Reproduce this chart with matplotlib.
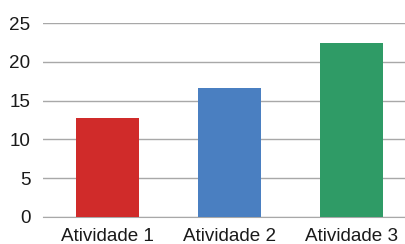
import matplotlib
matplotlib.use("Agg")
import matplotlib.pyplot as plt

categories = ["Atividade 1", "Atividade 2", "Atividade 3"]
values = [12.7, 16.7, 22.5]
colors = ["#D02B2A", "#4A7FC1", "#2F9B66"]
yticks = [0, 5, 10, 15, 20, 25]

plt.rcParams['font.family'] = ['Liberation Sans', 'DejaVu Sans']

fig = plt.figure(figsize=(4.05, 2.44), dpi=100)
ax = fig.add_axes([43/405, 1-216.7/244, 1-43/405, (216.7-23.3)/244])
x = list(range(len(categories)))
ax.bar(x, values, width=0.52, color=colors, zorder=3)
ax.set_xlim(-0.53, 2.44)
ax.set_ylim(0, 25)
ax.set_yticks(yticks)
ax.set_xticks(x)
ax.set_xticklabels(categories)
ax.yaxis.grid(True, color="#A8A8A8", linewidth=1.0, zorder=0)
for s in ["left", "right", "top"]:
    ax.spines[s].set_visible(False)
ax.spines["bottom"].set_color("#A8A8A8")
ax.tick_params(axis="both", length=0, labelsize=13.6, colors="#1a1a1a")
ax.tick_params(axis="y", pad=9)
ax.tick_params(axis="x", pad=8)
fig.savefig("out.png", dpi=100)
